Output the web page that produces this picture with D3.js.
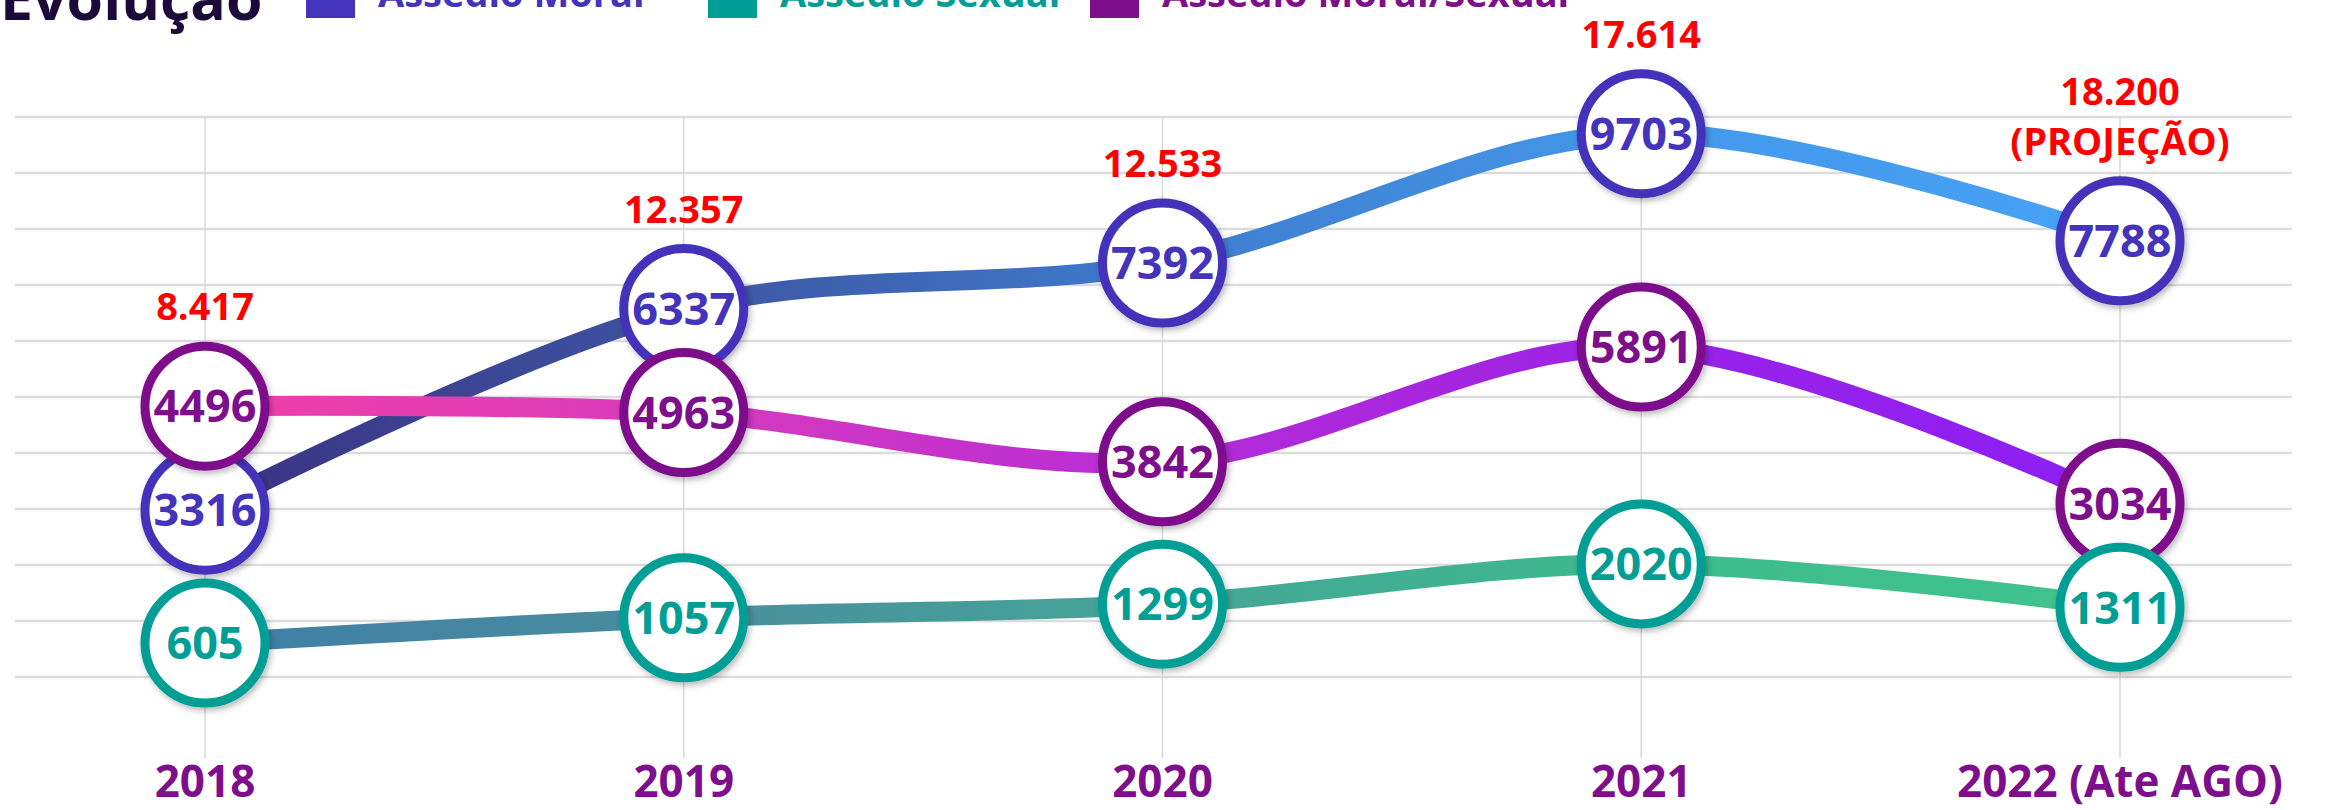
<!DOCTYPE html>
<html>
<head>
<meta charset="utf-8">
<script src="https://cdn.jsdelivr.net/npm/d3@7"></script>
<style>
  html, body { margin: 0; padding: 0; background: #ffffff; overflow: hidden; }
  svg { display: block; font-family: "Open Sans", "Noto Sans", sans-serif; }
</style>
</head>
<body>
<svg id="chart" width="2331" height="810"></svg>
<script>
// ---- data ----
const categories = ["2018", "2019", "2020", "2021", "2022 (Ate AGO)"];
const assedioMoral = [3316, 6337, 7392, 9703, 7788];
const assedioSexual = [605, 1057, 1299, 2020, 1311];
const assedioMoralSexual = [4496, 4963, 3842, 5891, 3034];
const totals = [8417, 12357, 12533, 17614, 18200];
const totalNotes = ["", "", "", "", "(PROJEÇÃO)"];
const seriesNames = ["Assédio Moral", "Assédio Sexual", "Assédio Moral/Sexual"];
const title = "Evolução";

// ---- styling ----
const seriesColors = ["#4433bb", "#009e94", "#7e0f8c"];
const gradientStops = [
  ["#3a3282", "#3d55a2", "#3f7ccd", "#4498ea", "#47a2f6"],
  ["#3f7ea6", "#4a8e9e", "#44a597", "#3dbb8c", "#40c48d"],
  ["#f03fa6", "#d83bbd", "#b62cd6", "#9a22e6", "#8c1ff4"]
];
const bubbleR = 60;
const minGap = 104; // bubbles closer than this are pushed apart (collision avoidance)

const series = [assedioMoral, assedioSexual, assedioMoralSexual].map((vals, i) => ({
  name: seriesNames[i], color: seriesColors[i], stops: gradientStops[i],
  points: vals.map((v, j) => ({ cat: categories[j], value: v }))
}));

const ptBR = d3.formatLocale({ decimal: ",", thousands: ".", grouping: [3], currency: ["R$", ""] });
const fmtTotal = ptBR.format(",");

const svg = d3.select("#chart");

const x = d3.scalePoint().domain(categories).range([205, 2120]);
const y = d3.scaleLinear().domain([0, 10000]).range([677, 117]);

// position each bubble from the scale, then relax overlaps within each year
series.forEach(s => s.points.forEach(p => { p.py = y(p.value); }));
categories.forEach((c, j) => {
  const col = series.map(s => s.points[j]).sort((a, b) => a.py - b.py);
  for (let iter = 0; iter < 30; iter++) {
    for (let k = 0; k < col.length - 1; k++) {
      const gap = col[k + 1].py - col[k].py;
      if (gap < minGap) {
        const push = (minGap - gap) / 2;
        col[k].py -= push;
        col[k + 1].py += push;
      }
    }
  }
});

const defs = svg.append("defs");
const shadow = defs.append("filter").attr("id", "shadow")
  .attr("x", "-30%").attr("y", "-30%").attr("width", "160%").attr("height", "160%");
shadow.append("feDropShadow").attr("dx", 2).attr("dy", 3).attr("stdDeviation", 3)
  .attr("flood-color", "#000").attr("flood-opacity", 0.28);

series.forEach((s, i) => {
  const g = defs.append("linearGradient").attr("id", "grad" + i)
    .attr("gradientUnits", "userSpaceOnUse")
    .attr("x1", x(categories[0])).attr("x2", x(categories[categories.length - 1]))
    .attr("y1", 0).attr("y2", 0);
  s.stops.forEach((c, k) => g.append("stop")
    .attr("offset", k / (s.stops.length - 1)).attr("stop-color", c));
});

// ---- grid ----
const grid = svg.append("g");
grid.selectAll("line.h").data(y.ticks(10)).join("line")
  .attr("class", "h")
  .attr("x1", 15).attr("x2", 2292)
  .attr("y1", d => y(d)).attr("y2", d => y(d))
  .attr("stroke", "#dcdcdc").attr("stroke-width", 2.5);
grid.selectAll("line.v").data(categories).join("line")
  .attr("class", "v")
  .attr("x1", d => x(d)).attr("x2", d => x(d))
  .attr("y1", y(10000)).attr("y2", 758)
  .attr("stroke", "#d9d9d9").attr("stroke-width", 1.5);

// ---- title & legend ----
svg.append("text").attr("x", 0).attr("y", 20)
  .attr("font-size", 59).attr("font-weight", 700).attr("fill", "#1c0a3a")
  .text(title);

const legendX = [306, 708, 1090];
const legend = svg.append("g");
series.forEach((s, i) => {
  legend.append("rect").attr("x", legendX[i]).attr("y", -31)
    .attr("width", 49).attr("height", 49).attr("fill", s.color);
  legend.append("text").attr("x", legendX[i] + 72).attr("y", 7)
    .attr("font-size", 38).attr("font-weight", 700).attr("fill", s.color)
    .text(s.name);
});

// ---- lines ----
const line = d3.line()
  .x(d => x(d.cat)).y(d => d.py)
  .curve(d3.curveCatmullRom.alpha(0.5));

const drawOrder = [0, 2, 1];
svg.append("g").selectAll("path").data(drawOrder.map(i => ({ s: series[i], i }))).join("path")
  .attr("d", d => line(d.s.points))
  .attr("fill", "none")
  .attr("stroke", d => `url(#grad${d.i})`)
  .attr("stroke-width", 20)
  .attr("stroke-linecap", "round");

// ---- bubbles ----
drawOrder.forEach(i => {
  const s = series[i];
  const g = svg.append("g").selectAll("g").data(s.points).join("g")
    .attr("transform", d => `translate(${x(d.cat)},${d.py})`);
  g.append("circle").attr("r", bubbleR)
    .attr("fill", "#ffffff").attr("stroke", s.color).attr("stroke-width", 9)
    .attr("filter", "url(#shadow)");
  g.append("text").attr("text-anchor", "middle").attr("dy", "0.36em")
    .attr("font-size", 45).attr("font-weight", 700).attr("fill", s.color)
    .text(d => d.value);
});

// ---- totals ----
const topY = categories.map((c, j) => Math.min(...series.map(s => s.points[j].py)));
const tot = svg.append("g").attr("font-weight", 700).attr("fill", "#ff0000")
  .attr("font-size", 38).attr("text-anchor", "middle");
categories.forEach((c, j) => {
  const hasNote = totalNotes[j] !== "";
  tot.append("text").attr("x", x(c)).attr("y", topY[j] - (hasNote ? 150 : 100) + 14)
    .text(fmtTotal(totals[j]));
  if (hasNote) {
    tot.append("text").attr("x", x(c)).attr("y", topY[j] - 100 + 14).text(totalNotes[j]);
  }
});

// ---- x axis labels ----
svg.append("g").selectAll("text").data(categories).join("text")
  .attr("x", d => x(d)).attr("y", 797)
  .attr("text-anchor", "middle")
  .attr("font-size", 44).attr("font-weight", 700).attr("fill", "#7e0f8c")
  .text(d => d);
</script>
</body>
</html>
